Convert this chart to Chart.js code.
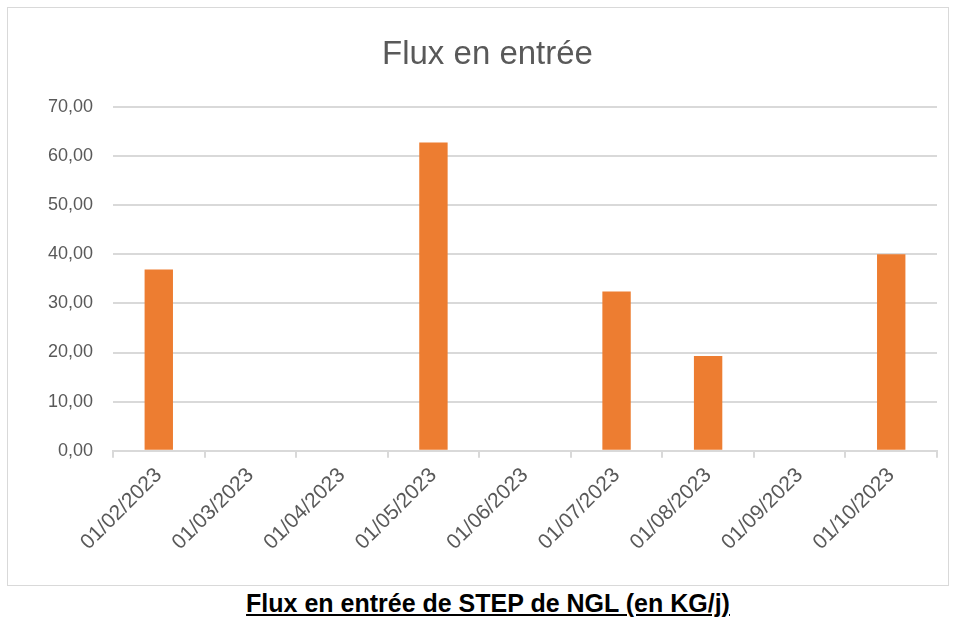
<!DOCTYPE html>
<html lang="fr">
<head>
  <meta charset="UTF-8">
  <title>Flux en entrée</title>
  <script src="https://cdn.jsdelivr.net/npm/chart.js"></script>
  <style>
    body { margin: 0; background: #fff; font-family: "Liberation Sans", sans-serif; }
    #box {
      position: absolute; left: 7px; top: 7px;
      width: 942px; height: 579px;
      border: 1px solid #d9d9d9; box-sizing: border-box;
    }
    #caption {
      position: absolute; left: 0; top: 589px; width: 976px;
      text-align: center; font-weight: bold; text-decoration: underline;
      font-family: "Liberation Sans", sans-serif;
      font-size: 25px; color: #000;
    }
  </style>
</head>
<body>
<div id="box"><canvas id="myChart"></canvas></div>
<div id="caption">Flux en entrée de STEP de NGL (en KG/j)</div>

<script>
  // Dates des mesures
  var labels = ['01/02/2023', '01/03/2023', '01/04/2023', '01/05/2023', '01/06/2023',
                '01/07/2023', '01/08/2023', '01/09/2023', '01/10/2023'];
  // Flux en entrée (kg/j)
  var fluxValues = [36.9, 0, 0, 62.7, 0, 32.4, 19.3, 0, 40.0];

  var grey = '#595959';
  var gridGrey = '#d9d9d9';

  var ctx = document.getElementById('myChart').getContext('2d');
  var myChart = new Chart(ctx, {
    type: 'bar',
    data: {
      labels: labels,
      datasets: [{
        label: 'Flux en entrée',
        data: fluxValues,
        backgroundColor: '#ed7d31',
        borderWidth: 0,
        barPercentage: 0.31,
        categoryPercentage: 1
      }]
    },
    options: {
      responsive: true,
      maintainAspectRatio: false,
      animation: false,
      layout: { padding: { top: 0, right: 11, bottom: 25, left: 30 } },
      plugins: {
        legend: { display: false },
        tooltip: { enabled: false },
        title: {
          display: true,
          text: 'Flux en entrée',
          color: grey,
          font: { family: 'Liberation Sans', size: 33, weight: 'normal' },
          padding: { top: 27, bottom: 32 }
        }
      },
      scales: {
        x: {
          grid: {
            offset: true,
            drawOnChartArea: false,
            drawTicks: true,
            tickLength: 7,
            color: gridGrey,
            lineWidth: 2
          },
          border: { color: gridGrey, width: 2 },
          ticks: {
            color: grey,
            font: { family: 'Liberation Sans', size: 21 },
            minRotation: 45,
            maxRotation: 45,
            padding: 5
          }
        },
        y: {
          min: 0,
          max: 70,
          afterFit: function(scale) { scale.width = 75; },
          ticks: {
            stepSize: 10,
            color: grey,
            padding: 20,
            font: { family: 'Liberation Sans', size: 18 },
            callback: function(v) { return v.toFixed(2).replace('.', ','); }
          },
          grid: { color: gridGrey, lineWidth: 2, drawTicks: false },
          border: { display: false }
        }
      }
    }
  });
</script>
</body>
</html>
